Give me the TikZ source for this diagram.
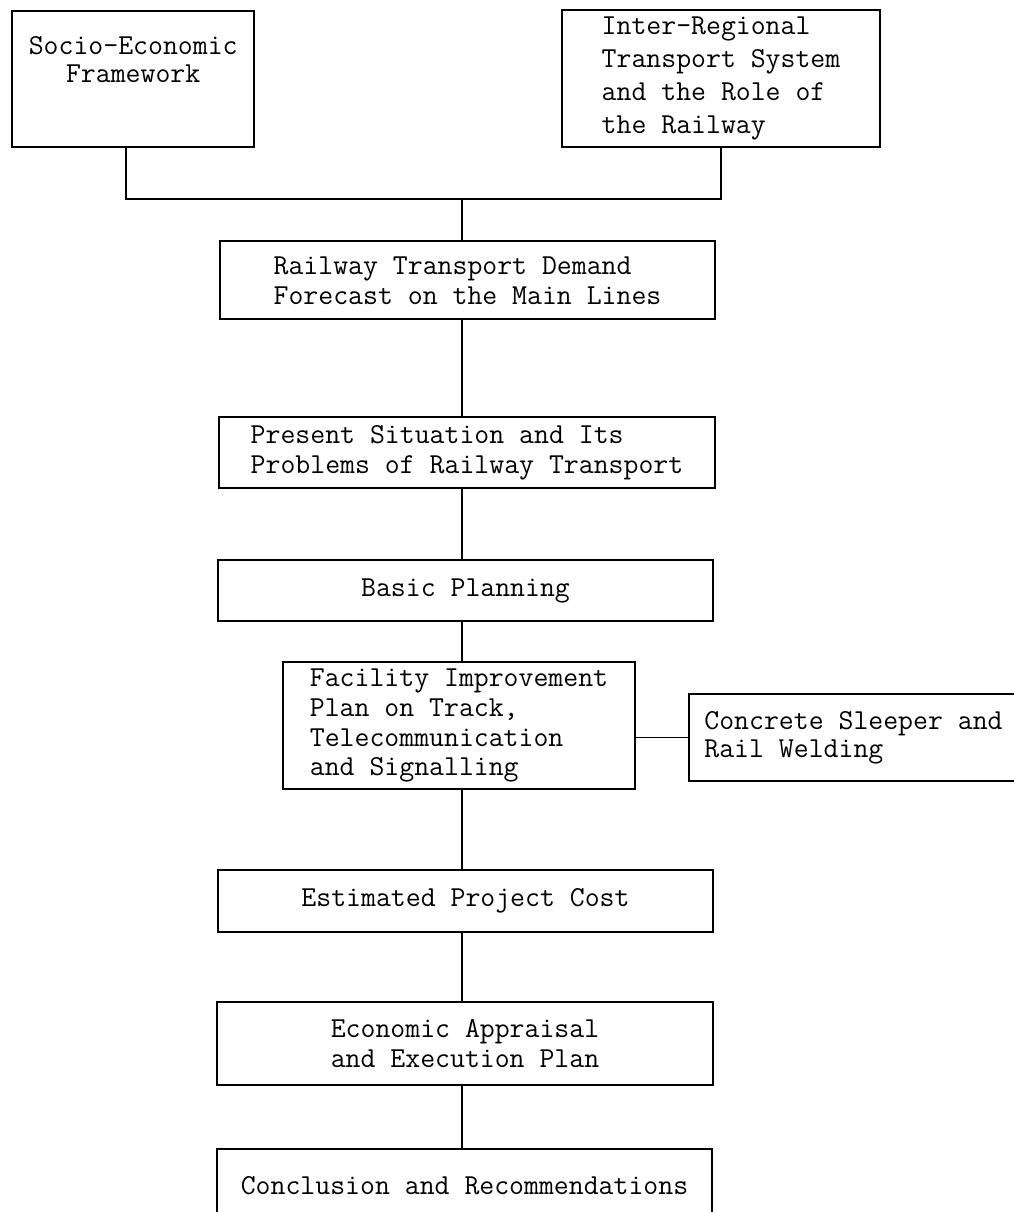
\documentclass[tikz,border=0pt]{standalone}
\usepackage{fontspec}
\usepackage{tikz}
\usetikzlibrary{positioning}
\newcommand{\stagefont}[1]{\fontsize{20.6pt}{#1}\selectfont\ttfamily}

\begin{document}
\begin{tikzpicture}[
  stage/.style={draw,line width=1.3pt,inner sep=0pt,font=\stagefont{21.3pt}},
  link/.style={line width=1pt}
]
  \useasboundingbox (0,0) rectangle (25.35,30.30);

  % two inputs on top
  \node[stage,minimum width=6.05cm,minimum height=3.40cm] (sef) at (3.325,28.325) {};
  \node[font=\stagefont{20pt},align=center,inner sep=0pt] (seftxt) at (3.33,28.80)
    {Socio-Economic\\Framework};
  \node[stage,minimum width=7.95cm,minimum height=3.425cm,align=left,
    font=\stagefont{23.4pt}] (irt) at (18.025,28.3375)
    {Inter-Regional\\Transport System\\and the Role of\\the Railway};
  \coordinate (jn) at (11.55,25.325);

  % main chain
  \node[stage,minimum width=12.375cm,minimum height=1.95cm,align=left] (rtd)
    at (11.6875,23.2925) {Railway Transport Demand\\Forecast on the Main Lines};
  \node[stage,minimum width=12.4cm,minimum height=1.775cm,align=left] (ps)
    at (11.675,18.9875) {Present Situation and Its\\Problems of Railway Transport};
  \node[stage,minimum width=12.375cm,minimum height=1.525cm] (bp)
    at (11.6375,15.5375) {Basic Planning};
  \node[stage,minimum width=8.8cm,minimum height=3.175cm,align=left] (fac)
    at (11.475,12.1625)
    {Facility Improvement\\Plan on Track,\\Telecommunication\\and Signalling};
  \node[stage,minimum width=8.225cm,minimum height=2.175cm,align=left,
    font=\stagefont{20pt}] (cs) at (21.3375,11.8625)
    {Concrete Sleeper and\\Rail Welding};
  \node[stage,minimum width=12.375cm,minimum height=1.55cm] (epc)
    at (11.6375,7.775) {Estimated Project Cost};
  \node[stage,minimum width=12.4cm,minimum height=2.075cm,align=center] (eap)
    at (11.625,4.2125) {Economic Appraisal\\and Execution Plan};
  \node[stage,minimum width=12.375cm,minimum height=1.825cm] (cr)
    at (11.6125,0.6625) {Conclusion and Recommendations};

  % connectors
  \draw[link] ([xshift=-0.175cm]sef.south) |- (jn) -| (irt.south);
  \draw[link] (jn) -- (rtd.north -| jn);
  \draw[link] (rtd.south -| jn) -- (ps.north -| jn);
  \draw[link] (ps.south -| jn) -- (bp.north -| jn);
  \draw[link] (bp.south -| jn) -- (fac.north -| jn);
  \draw[link] (fac.south -| jn) -- (epc.north -| jn);
  \draw[link] (epc.south -| jn) -- (eap.north -| jn);
  \draw[link] (eap.south -| jn) -- (cr.north -| jn);
  \draw[link] (fac.east |- cs.west) -- (cs.west);
\end{tikzpicture}
\end{document}
